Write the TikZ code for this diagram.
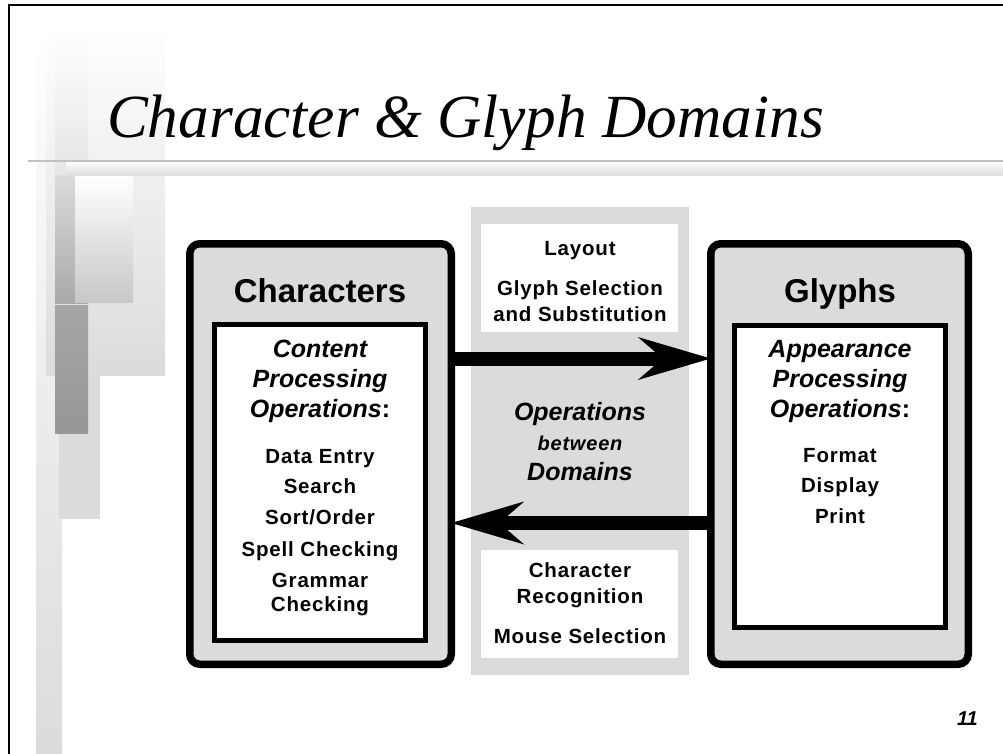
\documentclass[tikz,border=0pt]{standalone}
\usepackage{fontspec}
\setmainfont{Liberation Sans}
\newfontfamily\titlefont{Liberation Serif}
\newfontfamily\spaced[LetterSpace=4]{Liberation Sans}
\usetikzlibrary{arrows.meta}
\definecolor{panelgray}{gray}{0.86}
\definecolor{rulegray}{gray}{0.76}
\tikzset{
  lbl/.style={anchor=base, inner sep=0pt, outer sep=0pt},
  headfont/.style={font=\fontsize{33}{36}\selectfont\bfseries},
  opfont/.style={font=\fontsize{25}{28}\selectfont\bfseries\itshape},
  itemfont/.style={font=\fontsize{20.5}{24}\selectfont\spaced\bfseries},
  domainbox/.style={draw=black, line width=7.5pt, fill=panelgray, rounded corners=10pt,
    inner sep=0pt, outer sep=0pt},
  listbox/.style={draw=black, line width=5pt, fill=white, inner sep=0pt, outer sep=0pt},
  panel/.style={fill=panelgray, inner sep=0pt, outer sep=0pt},
  notebox/.style={fill=white, inner sep=0pt, outer sep=0pt},
  bigarrow/.style={line width=14pt,
    -{Stealth[length=73pt, width=43pt, inset=25pt, line width=0pt]}},
}
\begin{document}
\begin{tikzpicture}[x=1pt, y=-1pt]
\useasboundingbox (0,0) rectangle (1003,754);
\fill[white] (0,0) rectangle (1003,754);

% --- slide background ornaments ---
\shade[top color=white, bottom color=panelgray] (36,25) rectangle (62,754);
\shade[top color=white, bottom color=panelgray] (46,25) rectangle (165,375);
\fill[panelgray] (59,375) rectangle (100,519);
\shade[top color=white, bottom color=black!10] (55,25) rectangle (88,175);
\shade[top color=panelgray, bottom color=black!34] (55,176) rectangle (88,303);
\shade[top color=black!35, bottom color=black!41] (55,305) rectangle (88,433);
\shade[top color=white, bottom color=black!22] (75,176) rectangle (133,302);
\draw[rulegray, line width=1.5pt] (28,161) -- (1003,161);
\shade[top color=black!2, bottom color=panelgray] (66,163) rectangle (1003,176);
\draw[black, line width=1.5pt] (9,754) -- (9,5) -- (1003,5);

% --- title and page number ---
\node[lbl, anchor=base west, font=\fontsize{61.3}{66}\selectfont\titlefont\itshape] (title) at (107,138) {Character \& Glyph Domains};
\node[lbl, anchor=base west, font=\fontsize{20}{24}\selectfont\bfseries\itshape] (pageno) at (957,725) {11};

% --- middle panel with the two notes ---
\node[panel, minimum width=218pt, minimum height=468pt] (mid) at (580,441) {};
\node[notebox, minimum width=197pt, minimum height=108pt] (topnote) at (579.5,278) {};
\node[notebox, minimum width=197pt, minimum height=108pt] (botnote) at (579.5,604) {};

% --- the two domains ---
\node[domainbox, minimum width=261.5pt, minimum height=420.5pt] (charout) at (320.5,454) {};
\node[listbox, minimum width=211pt, minimum height=316pt] (charin) at (320,482.5) {};
\node[domainbox, minimum width=257.5pt, minimum height=420.5pt] (glyphout) at (839.5,454) {};
\node[listbox, minimum width=211pt, minimum height=302pt] (glyphin) at (840,476.5) {};

% --- arrows between the domains ---
\draw[bigarrow] (charout.east |- 0,358.5) -- (glyphout.west |- 0,358.5);
\draw[bigarrow] (glyphout.west |- 0,523) -- (charout.east |- 0,523);

% --- character domain text ---
\node[lbl, headfont] (charhead) at (320,302) {Characters};
\node[lbl, opfont] (c1) at (320,357) {Content};
\node[lbl, opfont] (c2) at (320,387) {Processing};
\node[lbl, opfont] (c3) at (320,417) {Operations\upshape:};
\node[lbl, itemfont] (c4) at (320,463) {Data Entry};
\node[lbl, itemfont] (c5) at (320,493) {Search};
\node[lbl, itemfont] (c6) at (320,524) {Sort/Order};
\node[lbl, itemfont] (c7) at (320,556) {Spell Checking};
\node[lbl, itemfont] (c8) at (320,587) {Grammar};
\node[lbl, itemfont] (c9) at (320,611) {Checking};

% --- glyph domain text ---
\node[lbl, headfont] (glyphhead) at (840,302) {Glyphs};
\node[lbl, opfont] (g1) at (840,357) {Appearance};
\node[lbl, opfont] (g2) at (840,387) {Processing};
\node[lbl, opfont] (g3) at (840,417) {Operations\upshape:};
\node[lbl, itemfont] (g4) at (840,462) {Format};
\node[lbl, itemfont] (g5) at (840,492) {Display};
\node[lbl, itemfont] (g6) at (840,523) {Print};

% --- operations between the domains ---
\node[lbl, itemfont] (m1) at (580,255) {Layout};
\node[lbl, itemfont] (m2) at (580,295) {Glyph Selection};
\node[lbl, itemfont] (m3) at (580,321) {and Substitution};
\node[lbl, opfont] (m4) at (580,420) {Operations};
\node[lbl, font=\fontsize{20}{24}\selectfont\spaced\bfseries\itshape] (m5) at (580,450) {between};
\node[lbl, opfont] (m6) at (580,480) {Domains};
\node[lbl, itemfont] (m7) at (580,577) {Character};
\node[lbl, itemfont] (m8) at (580,603) {Recognition};
\node[lbl, itemfont] (m9) at (580,643) {Mouse Selection};
\end{tikzpicture}
\end{document}
